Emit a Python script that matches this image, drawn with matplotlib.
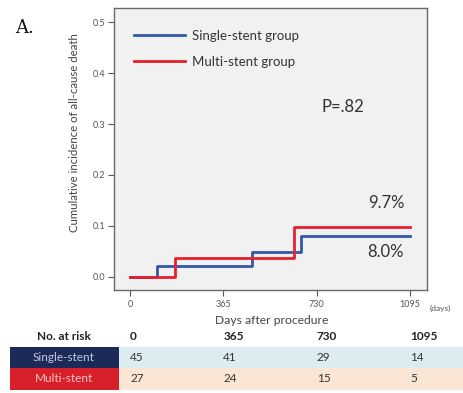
import matplotlib
matplotlib.use("Agg")
import matplotlib.pyplot as plt
from matplotlib.patches import Rectangle

plt.rcParams['font.family'] = ['Lato', 'DejaVu Sans']

# ---- data ----
single_days = [0, 105, 476, 669, 1095]
single_inc = [0.0, 0.022, 0.048, 0.080, 0.080]
multi_days = [0, 176, 643, 1095]
multi_inc = [0.0, 0.036, 0.097, 0.097]
xticks = [0, 365, 730, 1095]
yticks = [0.0, 0.1, 0.2, 0.3, 0.4, 0.5]
risk_times = [0, 365, 730, 1095]
risk_single = [45, 41, 29, 14]
risk_multi = [27, 24, 15, 5]
group_names = ["Single-stent", "Multi-stent"]

W, H = 464, 393
fig = plt.figure(figsize=(W / 100, H / 100), dpi=100)
fig.patch.set_facecolor('white')

def fx(px):
    return px / W

def fy(py):
    return 1 - py / H

ax = fig.add_axes([fx(114), fy(290), fx(427) - fx(114), fy(8) - fy(290)])
ax.set_facecolor('#f1f1f1')
for s in ax.spines.values():
    s.set_color('#6a6a6a')
    s.set_linewidth(1.0)

blue = '#3656a6'
red = '#e8202e'
ax.step(single_days, single_inc, where='post', color=blue, lw=2.0, label='Single-stent group')
ax.step(multi_days, multi_inc, where='post', color=red, lw=2.0, label='Multi-stent group')

ax.set_xlim(-63, 1162)
ax.set_ylim(-0.026, 0.528)
ax.set_xticks(xticks)
ax.set_xticklabels([str(v) for v in xticks])
ax.set_yticks(yticks)
ax.set_yticklabels([f"{v:.1f}" for v in yticks])
ax.tick_params(axis='both', labelsize=6.5, colors='#555555', length=4, width=0.8, direction='out')
ax.tick_params(axis='x', pad=3)
ax.tick_params(axis='y', pad=2)

ax.set_ylabel('Cumulative incidence of all-cause death', fontsize=8.2, color='#444444')
ax.yaxis.set_label_coords(-0.11, 0.557)

leg = ax.legend(loc='upper left', bbox_to_anchor=(0.033, 0.955), frameon=False, fontsize=9.5,
                handlelength=3.9, handletextpad=0.55, labelspacing=1.05, borderaxespad=0.3)
for t in leg.get_texts():
    t.set_color('#333333')

fig.text(fx(343), fy(107), 'P=.82', fontsize=12, color='#333333', ha='center', va='center')
fig.text(fx(386), fy(203), f"{multi_inc[-1]*100:.1f}%", fontsize=12, color='#333333', ha='center', va='center')
fig.text(fx(386), fy(252), f"{single_inc[-1]*100:.1f}%", fontsize=12, color='#333333', ha='center', va='center')

fig.text(fx(15), fy(28), 'A.', fontsize=13, family='DejaVu Serif', color='#111111', ha='left', va='center')
fig.text(fx(440), fy(308), '(days)', fontsize=6, color='#555555', ha='center', va='center')
fig.text(fx(272), fy(320), 'Days after procedure', fontsize=8.7, color='#444444', ha='center', va='center')

# ---- number at risk table ----
def xpos(d):
    x0, x1 = ax.get_xlim()
    return fx(114) + (d - x0) / (x1 - x0) * (fx(427) - fx(114))

fig.text(fx(64), fy(336), 'No. at risk', fontsize=8.5, fontweight='bold', color='#222222', ha='center', va='center')
for t in risk_times:
    fig.text(xpos(t), fy(336), str(t), fontsize=8.5, fontweight='bold', color='#222222', ha='left', va='center')

rows = [(347, 368, '#1c2a5a', '#dbedf1', '#c4c9dc', risk_single, group_names[0]),
        (368, 390, '#d8202a', '#fbe5d5', '#f6c2c5', risk_multi, group_names[1])]
for top, bot, boxc, bgc, txtc, vals, name in rows:
    fig.patches.append(Rectangle((fx(119), fy(bot)), 1 - fx(119), fy(top) - fy(bot),
                                 transform=fig.transFigure, facecolor=bgc, edgecolor='none', zorder=0))
    fig.patches.append(Rectangle((fx(10), fy(bot)), fx(119) - fx(10), fy(top) - fy(bot),
                                 transform=fig.transFigure, facecolor=boxc, edgecolor='none', zorder=1))
    yc = fy((top + bot) / 2)
    fig.text(fx(64), yc, name, fontsize=8.5, color=txtc, ha='center', va='center')
    for t, v in zip(risk_times, vals):
        fig.text(xpos(t), yc, str(v), fontsize=8.5, color='#333333', ha='left', va='center')

fig.savefig('out.png', dpi=100, facecolor='white')
